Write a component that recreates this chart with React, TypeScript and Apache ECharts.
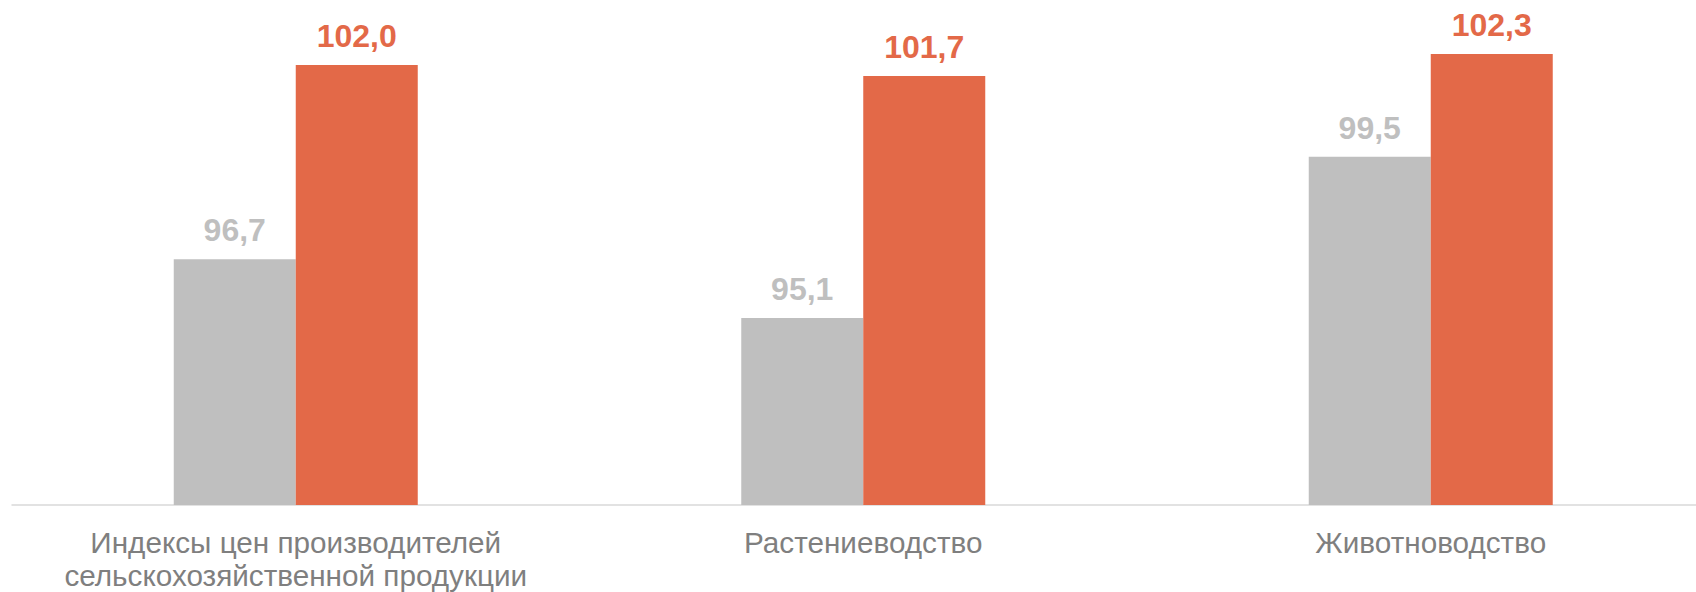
import React, { useEffect, useRef } from "react";
import * as echarts from "echarts";

const categories = [
  "Индексы цен производителей\nсельскохозяйственной продукции",
  "Растениеводство",
  "Животноводство",
];
const seriesGrey = [96.7, 95.1, 99.5];
const seriesOrange = [102.0, 101.7, 102.3];

const fmt = (v: number) => v.toFixed(1).replace(".", ",");

export default function App() {
  const ref = useRef<HTMLDivElement>(null);
  useEffect(() => {
    if (!ref.current) return;
    const chart = echarts.init(ref.current, undefined, { renderer: "svg" });
    const labelBase = {
      show: true,
      position: "top",
      distance: 13,
      fontSize: 32,
      fontWeight: "bold",
      fontFamily: "Liberation Sans, Arial, sans-serif",
      formatter: (p: any) => fmt(p.value),
    };
    chart.setOption({
      animation: false,
      backgroundColor: "#ffffff",
      grid: { left: 12, right: 5.5, top: 28.3, bottom: 87, containLabel: false },
      xAxis: {
        type: "category",
        data: categories,
        axisLine: { show: true, lineStyle: { color: "#d9d9d9", width: 1.5 } },
        axisTick: { show: false },
        axisLabel: {
          color: "#7f7f7f",
          fontSize: 29.7,
          fontFamily: "Liberation Sans, Arial, sans-serif",
          lineHeight: 33,
          margin: 21,
          interval: 0,
        },
      },
      yAxis: {
        type: "value",
        min: 90,
        max: 103,
        show: false,
        splitLine: { show: false },
      },
      series: [
        {
          type: "bar",
          data: seriesGrey,
          barWidth: 122,
          barGap: "0%",
          itemStyle: { color: "#bfbfbf" },
          label: { ...labelBase, color: "#bfbfbf" },
        },
        {
          type: "bar",
          data: seriesOrange,
          barWidth: 122,
          barGap: "0%",
          itemStyle: { color: "#e36948" },
          label: { ...labelBase, color: "#e36948" },
        },
      ],
    });
    return () => chart.dispose();
  }, []);
  return (
    <div
      style={{
        position: "fixed",
        left: 0,
        top: 0,
        width: 1696,
        height: 592,
        overflow: "hidden",
        background: "#fff",
      }}
    >
      <div ref={ref} style={{ width: 1720, height: 592 }} />
    </div>
  );
}
